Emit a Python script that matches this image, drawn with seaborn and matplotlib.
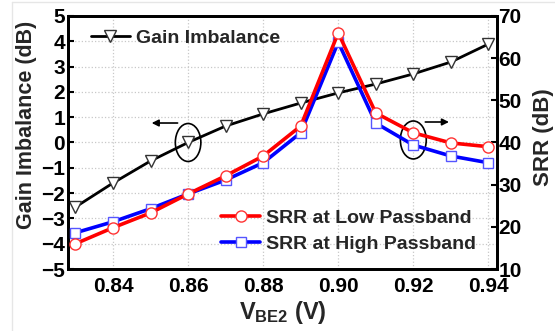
import matplotlib
matplotlib.use("Agg")
import matplotlib.pyplot as plt
import seaborn as sns
import pandas as pd
from matplotlib.patches import Ellipse
from matplotlib.lines import Line2D

vbe2 = [0.83, 0.84, 0.85, 0.86, 0.87, 0.88, 0.89, 0.90, 0.91, 0.92, 0.93, 0.94]
gain_imbalance = [-2.55, -1.6, -0.73, 0.0, 0.65, 1.13, 1.56, 1.96, 2.31, 2.71, 3.18, 3.89]
srr_low = [16.0, 19.8, 23.3, 27.8, 32.1, 36.8, 43.9, 66.0, 47.0, 42.3, 39.9, 39.0]
srr_high = [18.6, 21.2, 24.3, 27.8, 31.1, 35.2, 42.3, 63.8, 44.6, 39.4, 36.8, 35.2]

x_ticks = [0.84, 0.86, 0.88, 0.90, 0.92, 0.94]
left_ticks = [-5, -4, -3, -2, -1, 0, 1, 2, 3, 4, 5]
right_ticks = [10, 20, 30, 40, 50, 60, 70]

sns.set_theme(style="white")
plt.rcParams['font.family'] = ['Liberation Sans', 'DejaVu Sans']
plt.rcParams['font.weight'] = 'bold'
plt.rcParams['mathtext.fontset'] = 'custom'
plt.rcParams['mathtext.rm'] = 'Liberation Sans:bold'
plt.rcParams['mathtext.bf'] = 'Liberation Sans:bold'
plt.rcParams['mathtext.it'] = 'Liberation Sans:bold'

df = pd.DataFrame({"vbe2": vbe2, "gain": gain_imbalance, "low": srr_low, "high": srr_high})

fig = plt.figure(figsize=(5.55, 3.31), dpi=100)
fig.patch.set_facecolor('white')
ax = fig.add_axes([0.1225, 0.1873, 0.773, 0.7644])
ax2 = ax.twinx()

sns.lineplot(data=df, x="vbe2", y="gain", ax=ax, color='black', lw=2,
             marker='v', markersize=8, markerfacecolor='white',
             markeredgecolor='#333333', markeredgewidth=1, zorder=3)
sns.lineplot(data=df, x="vbe2", y="high", ax=ax2, color='#0000ff', lw=2.6,
             marker='s', markersize=7, markerfacecolor='white',
             markeredgecolor='#5555ff', markeredgewidth=1, zorder=3)
sns.lineplot(data=df, x="vbe2", y="low", ax=ax2, color='#ff0000', lw=2.6,
             marker='o', markersize=8, markerfacecolor='white',
             markeredgecolor='#ff3333', markeredgewidth=1, zorder=4)

ax.set_xlim(0.828, 0.9423)
ax.set_ylim(-5, 5)
ax2.set_ylim(10, 70)
ax.set_xticks(x_ticks)
ax.set_xticklabels([f"{v:.2f}" for v in x_ticks])
ax.set_yticks(left_ticks)
ax2.set_yticks(right_ticks)

ax.grid(True, ls=':', color='#c8c8c8', lw=0.9)
ax2.grid(False)

for a in (ax, ax2):
    for s in a.spines.values():
        s.set_color('black')
        s.set_linewidth(2)
    a.tick_params(direction='in', length=4, width=1.5, colors='black',
                  labelsize=15, pad=3)
ax.tick_params(axis='x', pad=6)
ax.tick_params(axis='y', pad=2)
ax2.tick_params(axis='y', pad=1)

ax.set_xlabel(r"V$_{\rm BE2}$ (V)", fontsize=17, fontweight='bold', labelpad=2)
ax.set_ylabel("Gain Imbalance (dB)", fontsize=15.5, fontweight='bold')
ax2.set_ylabel("SRR (dB)", fontsize=16, fontweight='bold')
ax.yaxis.set_label_coords(-0.072, 0.569)
ax2.yaxis.set_label_coords(1.084, 0.52)

# Legends
h1 = [Line2D([], [], color='black', lw=2, marker='v', markersize=8,
             markerfacecolor='white', markeredgecolor='#333333')]
leg1 = ax2.legend(h1, ["Gain Imbalance"], loc='upper left', frameon=False,
                  fontsize=14, handlelength=2.0, handletextpad=0.3,
                  bbox_to_anchor=(0.022, 1.0), borderaxespad=0.3)
h2 = [Line2D([], [], color='#ff0000', lw=2.6, marker='o', markersize=8,
             markerfacecolor='white', markeredgecolor='#ff3333'),
      Line2D([], [], color='#0000ff', lw=2.6, marker='s', markersize=7,
             markerfacecolor='white', markeredgecolor='#5555ff')]
ax2.add_artist(leg1)
ax2.legend(h2, ["SRR at Low Passband", "SRR at High Passband"], loc='lower right',
           frameon=False, fontsize=14, handlelength=2.0, handletextpad=0.3,
           labelspacing=0.45, bbox_to_anchor=(0.983, 0.01), borderaxespad=0.3)

# Annotations: ellipses and arrows
ax.add_patch(Ellipse((0.86, 0.0), 0.0068, 1.5, fill=False, ec='black', lw=1.2, zorder=5))
ax.add_patch(Ellipse((0.92, 0.1), 0.0069, 1.5, fill=False, ec='black', lw=1.2, zorder=5))
ax.annotate("", xy=(0.8503, 0.77), xytext=(0.8572, 0.77),
            arrowprops=dict(arrowstyle='-|>', color='black', lw=1.2,
                            mutation_scale=10, shrinkA=0, shrinkB=0))
ax.annotate("", xy=(0.9295, 0.81), xytext=(0.9232, 0.81),
            arrowprops=dict(arrowstyle='-|>', color='black', lw=1.2,
                            mutation_scale=10, shrinkA=0, shrinkB=0))

# faint outer border like the reference
fig.add_artist(Line2D([0.022, 0.022], [0.0, 0.994], transform=fig.transFigure,
                      color='#e6e6e6', lw=1))
fig.add_artist(Line2D([0.022, 1.0], [0.994, 0.994], transform=fig.transFigure,
                      color='#e6e6e6', lw=1))

fig.savefig("out.png", dpi=100, facecolor='white')
